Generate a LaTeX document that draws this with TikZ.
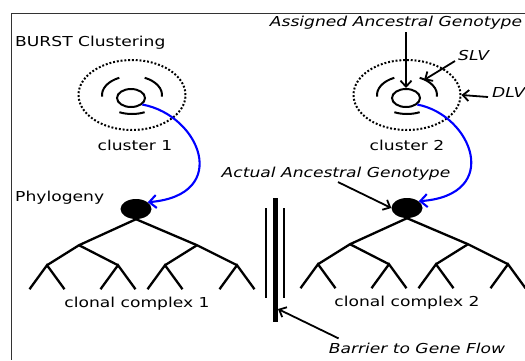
\documentclass[tikz,border=0pt]{standalone}
\usepackage{fontspec}
\setmainfont{DejaVu Sans}[FakeStretch=1.25]
\usetikzlibrary{arrows.meta,shapes.geometric}
\begin{document}
\begin{tikzpicture}[x=1pt,y=-1pt,
  lbl/.style={inner sep=0pt, anchor=base, font=\fontsize{13.7}{16}\selectfont},
  ilbl/.style={lbl, font=\fontsize{13.7}{16}\selectfont\itshape},
  dotring/.style={ellipse, draw, inner sep=0pt, minimum width=107pt, minimum height=70pt,
    line width=2pt, dash pattern=on 1.9pt off 1.9pt},
  core/.style={ellipse, draw, inner sep=0pt, minimum width=28pt, minimum height=18pt, line width=2pt},
  rootnode/.style={ellipse, fill=black, inner sep=0pt, minimum width=31pt, minimum height=20pt},
  arcline/.style={line width=2pt},
  treeline/.style={line width=2.3pt},
  pointer/.style={line width=1.8pt, -{Straight Barb[length=6pt,width=11pt]}},
  blueline/.style={line width=2.1pt, draw=blue, -{Straight Barb[length=7pt,width=13pt]}}
]
\useasboundingbox (0,0) rectangle (525,360);
% frame
\draw[line width=1pt, black!80] (525,13) -- (11.5,13) -- (11.5,360);

% titles
\node[lbl, anchor=base west] (burst) at (15,46) {BURST Clustering};
\node[lbl, anchor=base west] (phylo) at (15,201) {Phylogeny};

% clusters
\foreach \i/\cx in {1/132,2/407}{
  \node[dotring] (d\i) at (\cx,95) {};
  \node[core] (c\i) at ({\cx-1},98) {};
  \coordinate (a\i) at (\cx,95);
  \draw[arcline] (a\i) ++(175:30 and 19) arc[start angle=175, end angle=245, x radius=30, y radius=19];
  \draw[arcline] (a\i) ++(295:30 and 19) arc[start angle=295, end angle=365, x radius=30, y radius=19];
  \draw[arcline] (a\i) ++(65:30 and 19) arc[start angle=65, end angle=115, x radius=30, y radius=19];
}
\node[lbl] (cl1) at (135,150) {cluster 1};
\node[lbl] (cl2) at (407,150) {cluster 2};

% root nodes and trees
\node[rootnode] (n1) at (136,209) {};
\node[rootnode] (n2) at (407,208) {};
\foreach \i in {1,2}{
  \coordinate (r\i) at (n\i.south);
  \path (r\i) ++(-57,26) coordinate (p\i a);
  \path (r\i) ++(61,26) coordinate (p\i b);
  \path (r\i) ++(-89,46) coordinate (q\i a);
  \path (r\i) ++(-18,46) coordinate (q\i b);
  \path (r\i) ++(29,46) coordinate (q\i c);
  \path (r\i) ++(101,46) coordinate (q\i d);
  \draw[treeline] (r\i) -- (p\i a) -- (q\i a);
  \draw[treeline] (p\i a) -- (q\i b);
  \draw[treeline] (r\i) -- (p\i b) -- (q\i d);
  \draw[treeline] (p\i b) -- (q\i c);
  \foreach \k in {a,b,c,d}{
    \path (q\i\k) ++(-17.5,24) coordinate (l\i\k1);
    \path (q\i\k) ++(17.5,24) coordinate (l\i\k2);
    \draw[treeline] (l\i\k1) -- (q\i\k) -- (l\i\k2);
  }
}
\node[lbl] (cc1) at (137,307) {clonal complex 1};
\node[lbl] (cc2) at (407,306) {clonal complex 2};

% blue connectors
\draw[blueline] (c1.-30) .. controls (200,115) and (232,195) .. (n1.30);
\draw[blueline] (c2.-30) .. controls (472,115) and (503,195) .. (n2.30);

% labels with pointers
\node[ilbl] (asg) at (396,26) {Assigned Ancestral Genotype};
\draw[pointer] (asg.south -| c2) ++(0,3) coordinate (asgstart) -- (c2.north);

\node[ilbl, anchor=base west] (slv) at (458,60) {SLV};
\coordinate (slvtip) at (424,80);
\draw[pointer] ([xshift=-3pt,yshift=-1pt]slv.base west) -- (slvtip);

\node[ilbl, anchor=base west] (dlv) at (492,97) {DLV};
\draw[pointer] ([xshift=-4pt]dlv.base west) -- (d2.east);

\node[ilbl] (act) at (336,177) {Actual Ancestral Genotype};
\draw[pointer] ([xshift=2pt,yshift=-2pt]act.south) -- (n2.west);

% barrier
\draw[line width=5pt] (275,198) -- (275,322);
\draw[line width=2pt] (266,208) -- (266,298);
\draw[line width=2pt] (284,208) -- (284,298);
\coordinate (barpt) at (278,309);
\node[ilbl] (bar) at (417,353) {Barrier to Gene Flow};
\draw[pointer] ([xshift=10pt,yshift=4pt]bar.north west) -- (barpt);
\end{tikzpicture}
\end{document}
